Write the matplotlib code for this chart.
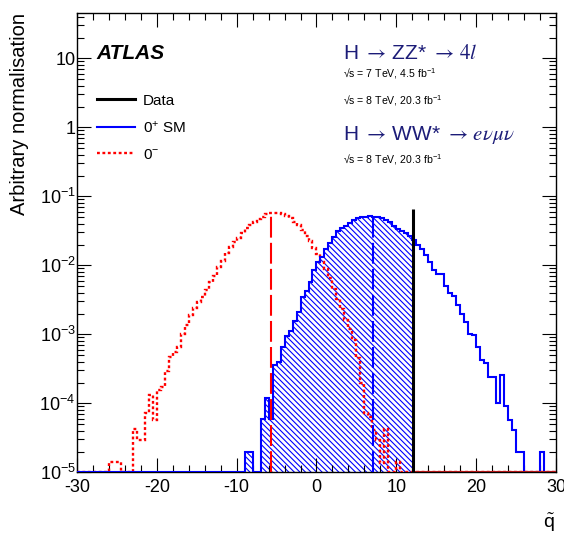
import numpy as np
import matplotlib
matplotlib.use("Agg")
import matplotlib.pyplot as plt
from matplotlib.lines import Line2D
from matplotlib.ticker import MultipleLocator, LogLocator, NullFormatter, FuncFormatter

plt.rcParams["font.family"] = ["Liberation Sans", "DejaVu Sans"]
plt.rcParams["mathtext.fontset"] = "stix"
plt.rcParams["axes.unicode_minus"] = False
plt.rcParams["hatch.color"] = "blue"
plt.rcParams["hatch.linewidth"] = 0.8

# binning of both pseudo-experiment distributions (0.5 wide bins)
BIN_W = 0.5
X_RANGE = (-30.0, 30.0)
FLOOR = 1e-5

# 0+ SM expectation, bins starting at -9.0
SM_START = -9.0
SM_VALS = [
    2e-5, 2e-5, 0, 0, 6e-5, 1.2e-4, 6e-5, 3.6e-4, 4.0e-4, 6.6e-4,
    9.4e-4, 1.1e-3, 1.55e-3, 2.1e-3, 3.5e-3, 4.2e-3, 5.7e-3, 8.5e-3, 1.12e-2, 1.33e-2,
    1.7e-2, 2.1e-2, 2.57e-2, 3.1e-2, 3.47e-2, 3.7e-2, 4.07e-2, 4.47e-2, 4.8e-2, 5.0e-2,
    5.1e-2, 5.2e-2, 5.1e-2, 5.0e-2, 4.8e-2, 4.6e-2, 4.2e-2, 3.7e-2, 3.4e-2, 3.1e-2,
    2.9e-2, 2.7e-2, 2.3e-2, 2.0e-2, 1.7e-2, 1.4e-2, 1.12e-2, 8.5e-3, 7.6e-3, 7.4e-3,
    5.1e-3, 4.0e-3, 3.6e-3, 2.7e-3, 2.0e-3, 1.5e-3, 1.0e-3, 9.8e-4, 6.6e-4, 4.2e-4,
    3.8e-4, 2.4e-4, 2.4e-4, 1.0e-4, 2.6e-4, 9e-5, 5.7e-5, 4.1e-5, 2e-5, 2e-5,
    0, 0, 0, 0, 2e-5, 0,
]

# 0- alternative, bins starting at -26.0
ALT_START = -26.0
ALT_VALS = [
    1.4e-5, 1.4e-5, 1.4e-5, 0, 0, 0, 4.3e-5, 2.9e-5, 2.9e-5, 7.2e-5,
    1.3e-4, 5.7e-5, 1.56e-4, 1.73e-4, 2.9e-4, 4.7e-4, 5.6e-4, 6.6e-4, 1.0e-3, 1.37e-3,
    1.9e-3, 2.4e-3, 2.97e-3, 3.5e-3, 4.4e-3, 5.7e-3, 7.1e-3, 9.3e-3, 1.17e-2, 1.5e-2,
    1.86e-2, 2.2e-2, 2.5e-2, 2.95e-2, 3.45e-2, 3.8e-2, 4.25e-2, 4.7e-2, 5.1e-2, 5.5e-2,
    5.75e-2, 5.8e-2, 5.75e-2, 5.6e-2, 5.25e-2, 4.8e-2, 4.25e-2, 3.8e-2, 3.3e-2, 2.7e-2,
    2.25e-2, 1.8e-2, 1.45e-2, 1.12e-2, 8.7e-3, 6.6e-3, 4.6e-3, 3.2e-3, 2.3e-3, 1.62e-3,
    1.2e-3, 8.3e-4, 4.5e-4, 2.0e-4, 7.2e-5, 6.3e-5, 4.1e-5, 2.95e-5, 1.35e-5, 4.2e-5,
    0, 0, 1.4e-5, 0,
]

DATA_Q = 12.1       # observed value
DATA_TOP = 0.065
SM_MEDIAN = 7.12
ALT_MEDIAN = -5.74

BLUE, RED = "#0000ff", "#ff0000"
NAVY = "#1c1c78"


def full_hist(start, vals):
    edges = np.arange(X_RANGE[0], X_RANGE[1] + BIN_W / 2, BIN_W)
    out = np.zeros(len(edges) - 1)
    i0 = int(round((start - X_RANGE[0]) / BIN_W))
    out[i0:i0 + len(vals)] = vals
    return edges, out


def value_at(edges, vals, x):
    return vals[np.searchsorted(edges, x, side="right") - 1]


def region(edges, vals, lo, hi):
    # step outline of the histogram restricted to [lo, hi]
    e = np.clip(edges, lo, hi)
    keep = (edges[1:] > lo) & (edges[:-1] < hi)
    x0, x1, v = e[:-1][keep], e[1:][keep], vals[keep]
    xs = np.column_stack([x0, x1]).ravel()
    ys = np.repeat(np.where(v > 0, v, FLOOR), 2)
    return xs, ys


edges, sm = full_hist(SM_START, SM_VALS)
_, alt = full_hist(ALT_START, ALT_VALS)

fig = plt.figure(figsize=(5.64, 5.39), dpi=100)
ax = fig.add_axes([0.1365, 0.1237, 0.8493, 0.8522])
ax.set_yscale("log")
ax.set_xlim(*X_RANGE)
ax.set_ylim(FLOOR, 10 ** 1.657)

# hatched SM region below the observed value
xs, ys = region(edges, sm, SM_START, DATA_Q)
ax.fill_between(xs, FLOOR, ys, facecolor="none", edgecolor=BLUE,
                hatch="\\\\\\\\\\\\", linewidth=0, zorder=1.5)

ax.stairs(np.where(alt > 0, alt, FLOOR), edges, baseline=None, color=RED,
          lw=1.7, ls=(0, (1.2, 1.1)), zorder=2.9)
ax.stairs(np.where(sm > 0, sm, FLOOR), edges, baseline=None, color=BLUE,
          lw=1.5, zorder=3)
# 0- tail above the observed value (empty)
xs, ys = region(edges, alt, DATA_Q, X_RANGE[1])
ax.plot(xs, ys, color="#b01515", lw=1.5, zorder=3.1)

ax.vlines(SM_MEDIAN, FLOOR, value_at(edges, sm, SM_MEDIAN), color=BLUE,
          lw=1.5, ls=(0, (10, 2.5)), zorder=3)
ax.vlines(ALT_MEDIAN, FLOOR, value_at(edges, alt, ALT_MEDIAN), color=RED,
          lw=1.5, ls=(0, (10, 2.5)), zorder=3)
ax.vlines(DATA_Q, FLOOR, DATA_TOP, color="black", lw=2.2, zorder=4)

# axes styling (ROOT-like)
ax.xaxis.set_major_locator(MultipleLocator(10))
ax.xaxis.set_minor_locator(MultipleLocator(2))
ax.yaxis.set_major_locator(LogLocator(base=10, numticks=20))
ax.yaxis.set_minor_locator(LogLocator(base=10, subs=np.arange(2, 10), numticks=20))
ax.yaxis.set_minor_formatter(NullFormatter())


def ylab(v, pos):
    e = int(round(np.log10(v)))
    if e == 0:
        return "1"
    if e == 1:
        return "10"
    return r"$\mathregular{10^{%d}}$" % e


ax.yaxis.set_major_formatter(FuncFormatter(ylab))
ax.tick_params(which="both", direction="in", top=True, right=True, width=0.8,
               labelsize=13)
ax.tick_params(which="major", length=10)
ax.tick_params(which="minor", length=5)
ax.tick_params(axis="x", pad=5)
ax.tick_params(axis="y", pad=1)
for s in ax.spines.values():
    s.set_linewidth(1.0)

ax.set_ylabel("Arbitrary normalisation", fontsize=14.5, loc="top")
ax.yaxis.set_label_coords(-0.101, 1.0)
ax.set_xlabel(r"$\tilde{\mathregular{q}}$", fontsize=14, loc="right")
ax.xaxis.set_label_coords(0.998, -0.086)

ax.text(0.041, 0.899, "ATLAS", transform=ax.transAxes, fontsize=15,
        fontweight="bold", fontstyle="italic", va="baseline")

handles = [
    Line2D([], [], color="black", lw=2.2),
    Line2D([], [], color=BLUE, lw=1.5),
    Line2D([], [], color=RED, lw=1.7, ls=(0, (1.2, 1.1))),
]
labels = ["Data", r"0$\mathregular{^{+}}$ SM", r"0$\mathregular{^{-}}$"]
ax.legend(handles, labels, loc="upper left", bbox_to_anchor=(0.0418, 0.824),
          frameon=False, fontsize=11, handlelength=2.5, handletextpad=0.5,
          labelspacing=0.78, borderpad=0, borderaxespad=0)

tx = 0.555
ax.text(tx, 0.8988, r"H $\rightarrow\,$ZZ* $\rightarrow\,4l$", transform=ax.transAxes,
        fontsize=15, color=NAVY, va="baseline")
ax.text(tx, 0.8585, r"√s = 7 TeV, 4.5 fb$\mathregular{^{-1}}$",
        transform=ax.transAxes, fontsize=7.6, va="baseline")
ax.text(tx, 0.8008, r"√s = 8 TeV, 20.3 fb$\mathregular{^{-1}}$",
        transform=ax.transAxes, fontsize=7.6, va="baseline")
ax.text(tx, 0.7235, r"H $\rightarrow\,$WW* $\rightarrow\,e\nu\mu\nu$", transform=ax.transAxes,
        fontsize=15, color=NAVY, va="baseline")
ax.text(tx, 0.6734, r"√s = 8 TeV, 20.3 fb$\mathregular{^{-1}}$",
        transform=ax.transAxes, fontsize=7.6, va="baseline")

fig.savefig("out.png", dpi=100)
